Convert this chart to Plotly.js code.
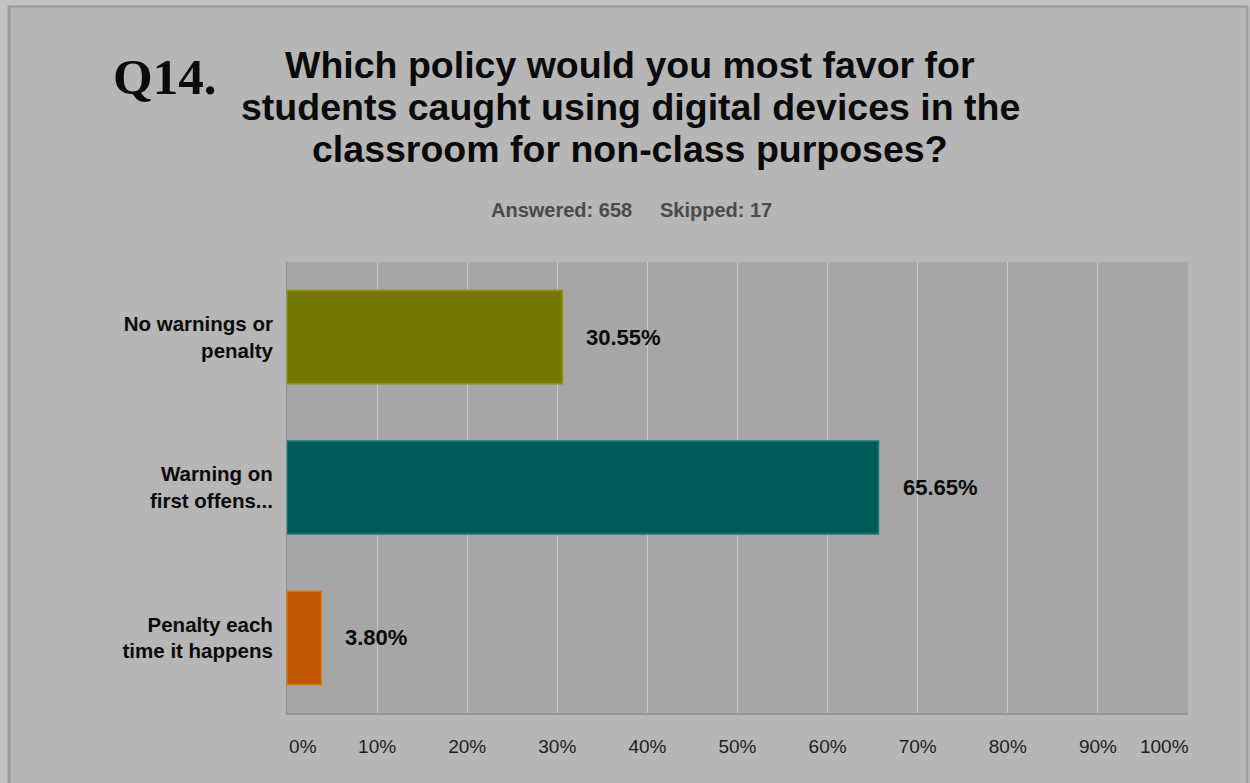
<!DOCTYPE html>
<html>
<head>
<meta charset="utf-8">
<script src="https://cdn.plot.ly/plotly-3.0.1.min.js"></script>
<style>
  html, body { margin: 0; padding: 0; background: #b6b6b6; }
  #chart { width: 1250px; height: 783px; }
</style>
</head>
<body>
<div id="chart"></div>
<script>
// ---- data ----
const categories = ["No warnings or penalty", "Warning on first offens...", "Penalty each time it happens"];
const categoryLabels = ["No warnings or<br>penalty", "Warning on<br>first offens...", "Penalty each<br>time it happens"];
const percentages = [30.55, 65.65, 3.80];
const barColors = ["#737800", "#005b5b", "#c25600"];
const barEdgeColors = ["#8f9400", "#1f7a7a", "#d27a00"];
const tickValues = [0, 10, 20, 30, 40, 50, 60, 70, 80, 90, 100];
const tickLabels = ["0%", "10%", "20%", "30%", "40%", "50%", "60%", "70%", "80%", "90%", "100%"];
const titleQuestion = "Q14.";
const titleLines = [
  "Which policy would you most favor for",
  "students caught using digital devices in the",
  "classroom for non-class purposes?"
];
const subtitleText = "Answered: 658&nbsp;&nbsp;&nbsp;&nbsp;&nbsp;Skipped: 17";

// ---- geometry helpers (plot area in pixels) ----
const W = 1250, H = 783;
const L = 287, R = 1188, T = 262, B = 713;
const px = x => (x - L) / (R - L);
const py = y => (B - y) / (B - T);

const NB = "\u00a0";
const shownTicks = tickLabels.map((t, i) => {
  if (i === 0) return NB.repeat(6) + t;
  if (i === tickLabels.length - 1) return t + NB.repeat(9);
  return t;
});

const trace = {
  type: "bar",
  orientation: "h",
  y: categories,
  x: percentages,
  width: 0.62,
  marker: { color: barColors, line: { color: barEdgeColors, width: 1.5 } },
  hoverinfo: "x+y"
};

const annotations = [];
percentages.forEach((v, i) => {
  annotations.push({
    x: v, y: categories[i], xref: "x", yref: "y",
    text: v.toFixed(2) + "%", showarrow: false,
    xanchor: "left", yanchor: "middle", xshift: 22,
    font: { family: "Liberation Sans, Arial, sans-serif", size: 22, color: "#0a0a0a", weight: "bold" }
  });
});

annotations.push({
  x: px(164), y: py(77), xref: "paper", yref: "paper",
  text: "<b>" + titleQuestion + "</b>", showarrow: false,
  xanchor: "center", yanchor: "middle",
  font: { family: "Liberation Serif, Times New Roman, serif", size: 51, color: "#0a0a0a" }
});
const lineCenters = [65, 106.5, 148.5];
titleLines.forEach((t, i) => {
  annotations.push({
    x: px(630), y: py(lineCenters[i]), xref: "paper", yref: "paper",
    text: "<b>" + t + "</b>", showarrow: false,
    xanchor: "center", yanchor: "middle",
    font: { family: "Liberation Sans, Arial, sans-serif", size: 37.5, color: "#0a0a0a" }
  });
});
annotations.push({
  x: px(631), y: py(210), xref: "paper", yref: "paper",
  text: "<b>" + subtitleText + "</b>", showarrow: false,
  xanchor: "center", yanchor: "middle",
  font: { family: "Liberation Sans, Arial, sans-serif", size: 20, color: "#4a4a4a" }
});

const shapes = [
  { type: "rect", xref: "paper", yref: "paper", x0: px(0), x1: px(W), y0: py(0), y1: py(6), fillcolor: "#c2c2c2", line: { width: 0 }, layer: "below" },
  { type: "rect", xref: "paper", yref: "paper", x0: px(0), x1: px(8), y0: py(0), y1: py(H), fillcolor: "#c2c2c2", line: { width: 0 }, layer: "below" },
  { type: "line", xref: "paper", yref: "paper", x0: px(8), x1: px(W - 3), y0: py(6.5), y1: py(6.5), line: { color: "#9a9a9a", width: 2 } },
  { type: "line", xref: "paper", yref: "paper", x0: px(9), x1: px(9), y0: py(6), y1: py(H), line: { color: "#9a9a9a", width: 3 } },
  { type: "line", xref: "paper", yref: "paper", x0: px(W - 3), x1: px(W - 3), y0: py(6), y1: py(H), line: { color: "#a0a0a0", width: 2 } }
];

const layout = {
  width: W, height: H,
  margin: { l: L, r: W - R, t: T, b: H - B, pad: 0 },
  paper_bgcolor: "#b6b6b6",
  plot_bgcolor: "#a6a6a6",
  showlegend: false,
  bargap: 0.38,
  xaxis: {
    range: [0, 100],
    tickmode: "array", tickvals: tickValues, ticktext: shownTicks,
    showgrid: true, gridcolor: "#c6c6c6", gridwidth: 1,
    zeroline: false,
    showline: true, linecolor: "#959595", linewidth: 2, mirror: false,
    ticks: "", ticklabelstandoff: 15,
    tickfont: { family: "Liberation Sans, Arial, sans-serif", size: 19, color: "#1e1e1e" },
    fixedrange: true
  },
  yaxis: {
    type: "category",
    autorange: "reversed",
    tickmode: "array", tickvals: categories, ticktext: categoryLabels,
    showgrid: false, zeroline: false,
    showline: true, linecolor: "#8a8a8a", linewidth: 1,
    ticks: "", ticklabelstandoff: 9,
    tickfont: { family: "Liberation Sans, Arial, sans-serif", size: 20.5, color: "#0a0a0a", weight: "bold" },
    fixedrange: true
  },
  annotations: annotations,
  shapes: shapes,
  font: { family: "Liberation Sans, Arial, sans-serif" }
};

Plotly.newPlot("chart", [trace], layout, { displayModeBar: false, staticPlot: true });
</script>
</body>
</html>
